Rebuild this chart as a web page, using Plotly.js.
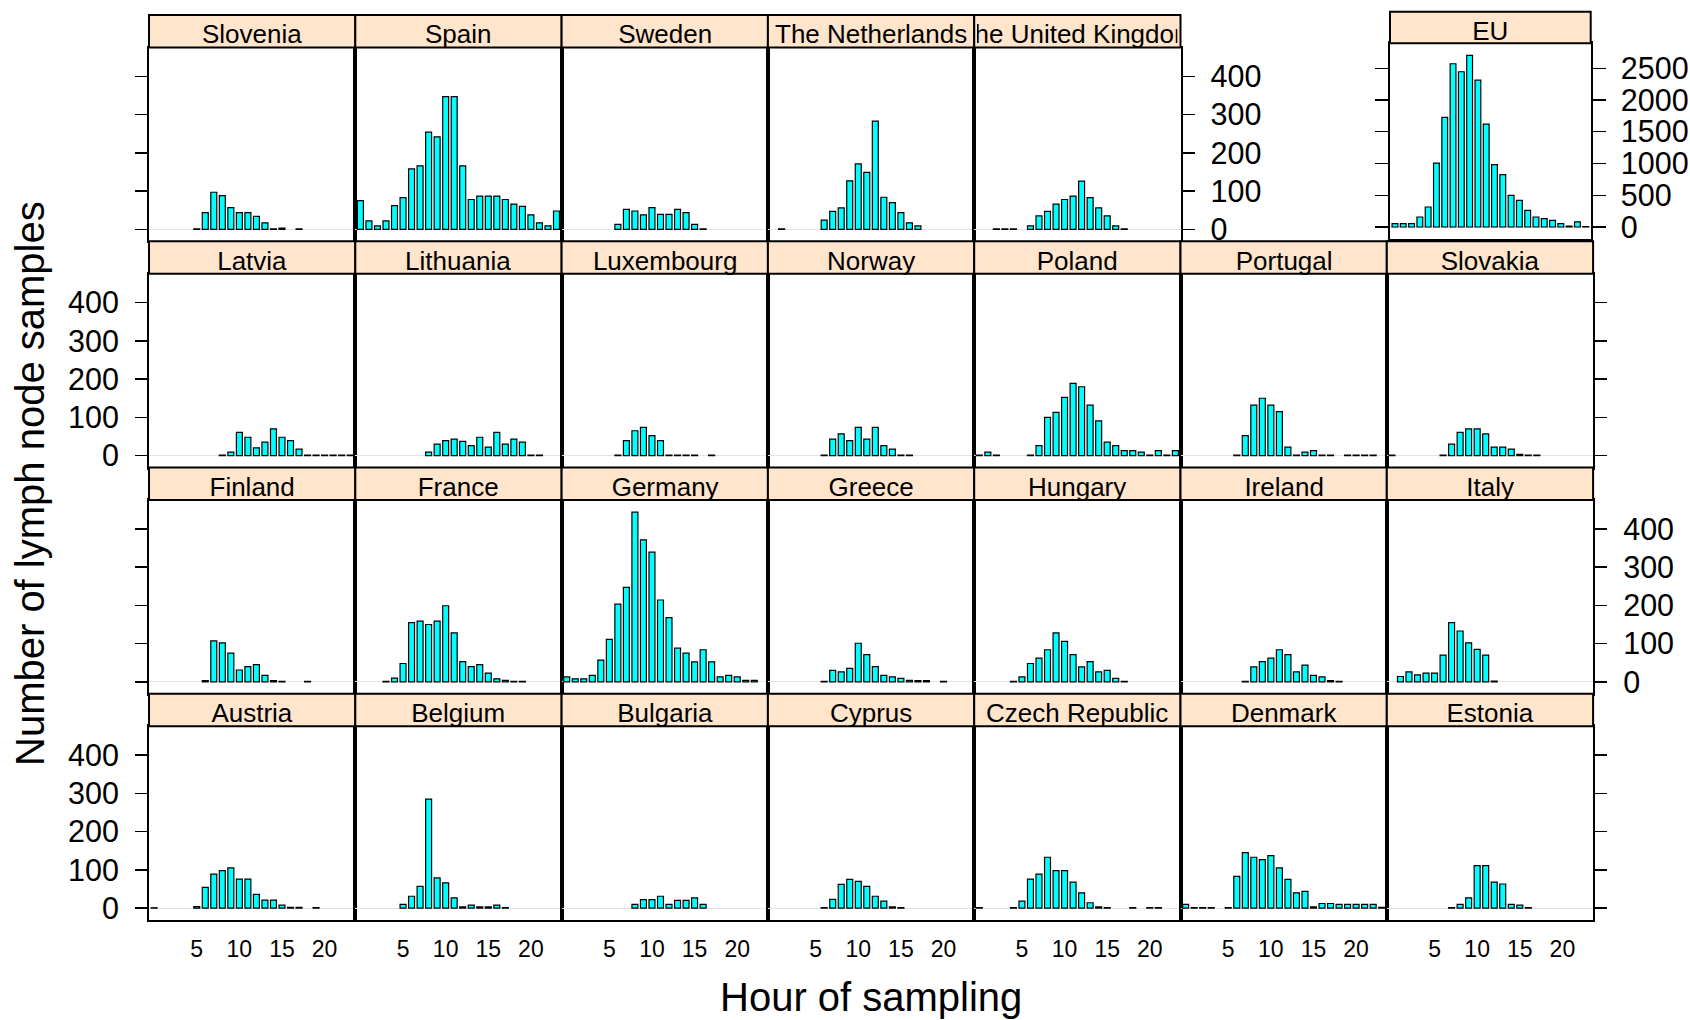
<!DOCTYPE html>
<html>
<head>
<meta charset="utf-8">
<script src="https://cdn.plot.ly/plotly-3.0.1.min.js"></script>
<style>
  html, body { margin: 0; padding: 0; background: #ffffff; }
  #chart { width: 1690px; height: 1020px; }
</style>
</head>
<body>
<div id="chart"></div>
<script>
// Lymph node samples per hour of sampling, by country (counts, hours 0-23).
const n = null;
const hours = [0,1,2,3,4,5,6,7,8,9,10,11,12,13,14,15,16,17,18,19,20,21,22,23];
const xTickVals = [5, 10, 15, 20];
const countryTickVals = [0, 100, 200, 300, 400];
const euTickVals = [0, 500, 1000, 1500, 2000, 2500];

const austria       = [1,n,n,n,n,4,54,89,98,105,76,76,36,21,21,8,2,2,n,1,n,n,n,n];
const belgium       = [n,n,n,n,n,10,31,57,285,79,66,27,3,8,3,3,8,1,n,n,n,n,n,n];
const bulgaria      = [n,n,n,n,n,n,n,n,10,22,22,31,10,20,20,27,10,n,n,n,n,n,n,n];
const cyprus        = [n,n,n,n,n,n,1,23,62,75,70,57,31,18,3,1,n,n,n,n,n,n,n,n];
const czechRepublic = [1,n,n,n,1,18,76,89,133,98,98,68,40,14,3,1,n,n,1,n,1,1,n,n];
const denmark       = [10,1,1,1,n,1,83,145,133,127,137,105,75,40,44,3,12,12,10,10,10,10,10,2];
const estonia       = [n,n,n,n,n,n,n,1,10,27,111,111,68,63,10,8,1,n,n,n,n,n,n,n];
const finland       = [n,n,n,n,n,n,3,107,102,75,31,40,45,17,3,1,n,n,1,n,n,n,n,n];
const france        = [n,n,n,1,10,48,155,159,150,159,199,128,53,40,45,23,8,4,1,1,n,n,n,n];
const germany       = [13,8,8,17,57,111,203,247,444,371,339,214,168,88,75,52,84,52,13,17,13,4,4,n];
const greece        = [n,n,n,n,n,n,1,30,26,35,101,71,40,17,13,9,4,3,3,n,1,n,n,n];
const hungary       = [n,n,n,n,1,13,48,62,84,128,106,71,39,53,26,30,9,1,n,n,n,n,n,n];
const ireland       = [n,n,n,n,n,n,n,1,39,53,62,84,71,26,44,17,13,3,1,n,n,n,n,n];
const italy         = [n,14,26,18,23,23,70,155,133,102,85,70,2,n,n,n,n,n,n,n,n,n,n,n];
const latvia        = [n,n,n,n,n,n,n,n,1,9,61,48,20,35,70,48,39,17,1,1,1,1,1,1];
const lithuania     = [n,n,n,n,n,n,n,n,9,30,39,43,37,26,48,22,61,30,43,35,1,1,n,n];
const luxembourg    = [n,n,n,n,n,n,1,39,65,74,52,39,1,1,1,1,n,1,n,n,n,n,n,n];
const norway        = [n,n,n,n,n,n,1,43,57,39,74,43,74,26,17,1,1,n,n,n,n,n,n,n];
const poland        = [1,9,1,n,n,n,1,26,100,113,152,189,180,132,91,35,26,13,13,9,1,13,1,13];
const portugal      = [n,n,n,n,n,n,1,52,132,150,132,115,22,1,9,13,1,1,n,1,1,1,1,n];
const slovakia      = [1,n,n,n,n,n,1,30,61,70,70,57,22,22,17,3,1,1,n,n,n,n,n,n];
const slovenia      = [n,n,n,n,n,1,44,97,88,57,44,44,34,17,1,3,n,1,n,n,n,n,n,n];
const spain         = [75,22,9,22,62,83,158,166,254,242,347,347,166,78,87,87,87,78,66,60,38,17,9,48];
const sweden        = [n,n,n,n,n,n,13,52,48,38,57,39,39,52,44,13,1,n,n,n,n,n,n,n];
const netherlands   = [n,1,n,n,n,n,24,47,56,127,171,149,283,84,70,44,17,9,n,n,n,n,n,n];
const unitedKingdom = [n,n,1,1,1,n,9,35,47,66,78,87,126,83,56,35,9,1,n,n,n,n,n,n];
const eu            = [52,52,52,157,315,1007,1726,2571,2445,2704,2314,1621,981,824,498,420,262,157,131,105,52,15,79,5];

// Lattice rows, top to bottom
const grid = [
  [["Slovenia", slovenia], ["Spain", spain], ["Sweden", sweden], ["The Netherlands", netherlands], ["The United Kingdom", unitedKingdom]],
  [["Latvia", latvia], ["Lithuania", lithuania], ["Luxembourg", luxembourg], ["Norway", norway], ["Poland", poland], ["Portugal", portugal], ["Slovakia", slovakia]],
  [["Finland", finland], ["France", france], ["Germany", germany], ["Greece", greece], ["Hungary", hungary], ["Ireland", ireland], ["Italy", italy]],
  [["Austria", austria], ["Belgium", belgium], ["Bulgaria", bulgaria], ["Cyprus", cyprus], ["Czech Republic", czechRepublic], ["Denmark", denmark], ["Estonia", estonia]]
];

// Page geometry (pixels)
const W = 1690, H = 1020;
const colLeft0 = 149, colW = 206.3;
const rowTop0 = 15, rowH = 226.25, stripH = 32.5;
const px = v => v / W;
const py = v => 1 - v / H;

const FONT = "Liberation Sans, Arial, Helvetica, sans-serif";
const STRIP_FILL = "#FFE5CC";
const BAR_FILL = "#00FFFF";
const xRange = [-0.6, 23.6];
const yRange = [-31.1, 475.5];

const data = [];
const layout = {
  width: W, height: H,
  margin: {l: 0, r: 0, t: 0, b: 0},
  paper_bgcolor: "#ffffff",
  plot_bgcolor: "rgba(0,0,0,0)",
  font: {family: FONT, color: "#000000"},
  showlegend: false,
  hovermode: false,
  shapes: [],
  annotations: []
};

function addStrip(x0, x1, top, bottom, label) {
  layout.shapes.push({
    type: "rect", xref: "paper", yref: "paper",
    x0: px(x0), x1: px(x1), y0: py(bottom), y1: py(top),
    fillcolor: STRIP_FILL, line: {color: "#000000", width: 2}
  });
  // strip label sits a little below the strip centre, clipped to the strip width
  layout.annotations.push({
    xref: "paper", yref: "paper",
    x: px((x0 + x1) / 2), y: py((top + bottom) / 2 + 3),
    xanchor: "center", yanchor: "middle",
    text: label, showarrow: false,
    width: (x1 - x0) - 6, align: "center",
    font: {family: FONT, size: 26, color: "#000000"}
  });
}

let k = 0;
grid.forEach((row, r) => {
  const top = rowTop0 + r * rowH;
  const panelTop = top + stripH;
  const panelBottom = top + rowH;
  const lastCol = row.length - 1;
  row.forEach(([name, values], c) => {
    k += 1;
    const sfx = k === 1 ? "" : String(k);
    const left = colLeft0 + c * colW;
    const right = left + colW;

    data.push({
      type: "bar", x: hours, y: values,
      xaxis: "x" + sfx, yaxis: "y" + sfx,
      width: 0.7,
      marker: {color: BAR_FILL, line: {color: "#000000", width: 1.2}},
      hoverinfo: "skip"
    });

    // Y axis labelling alternates between left and right by row
    let side = "left", ticks = "", labels = false;
    if (c === 0) {
      side = "left"; ticks = "outside";
      labels = (r === 1 || r === 3);
    } else if (c === lastCol) {
      side = "right"; ticks = "outside";
      labels = (r === 0 || r === 2);
    }

    layout["xaxis" + sfx] = {
      domain: [px(left), px(right)], anchor: "y" + sfx,
      range: xRange, fixedrange: true,
      showline: true, mirror: true, linecolor: "#000000", linewidth: 2,
      showgrid: false, zeroline: false,
      ticks: "", tickmode: "array", tickvals: xTickVals,
      showticklabels: r === 3, ticklabelstandoff: 7,
      tickfont: {family: FONT, size: 23, color: "#000000"}
    };
    layout["yaxis" + sfx] = {
      domain: [py(panelBottom), py(panelTop)], anchor: "x" + sfx,
      range: yRange, fixedrange: true, side: side,
      showline: true, mirror: true, linecolor: "#000000", linewidth: 2,
      showgrid: false,
      zeroline: true, zerolinecolor: "#e3e3e3", zerolinewidth: 1.2,
      ticks: ticks, ticklen: 12, tickwidth: 1.3, tickcolor: "#000000",
      tickmode: "array", tickvals: countryTickVals,
      showticklabels: labels, ticklabelstandoff: 10,
      tickfont: {family: FONT, size: 30.5, color: "#000000"}
    };

    addStrip(left, right, top, panelTop, name);
  });
});

// EU total panel, on its own scale
k += 1;
const euLeft = 1390, euRight = 1590.7, euStripTop = 11.7, euPanelTop = 43.3, euBottom = 239;
data.push({
  type: "bar", x: hours, y: eu,
  xaxis: "x" + k, yaxis: "y" + k,
  width: 0.7,
  marker: {color: BAR_FILL, line: {color: "#000000", width: 1.2}},
  hoverinfo: "skip"
});
layout["xaxis" + k] = {
  domain: [px(euLeft), px(euRight)], anchor: "y" + k,
  range: xRange, fixedrange: true,
  showline: true, mirror: true, linecolor: "#000000", linewidth: 2,
  showgrid: false, zeroline: false, ticks: "", showticklabels: false
};
layout["yaxis" + k] = {
  domain: [py(euBottom), py(euPanelTop)], anchor: "x" + k,
  range: [-189.3, 2893.3], fixedrange: true, side: "right",
  showline: true, mirror: "ticks", linecolor: "#000000", linewidth: 2,
  showgrid: false,
  zeroline: true, zerolinecolor: "#e3e3e3", zerolinewidth: 1.2,
  ticks: "outside", ticklen: 13, tickwidth: 1.3, tickcolor: "#000000",
  tickmode: "array", tickvals: euTickVals,
  showticklabels: true, ticklabelstandoff: 9,
  tickfont: {family: FONT, size: 30.5, color: "#000000"}
};
addStrip(euLeft, euRight, euStripTop, euPanelTop, "EU");

// Axis titles
layout.annotations.push({
  xref: "paper", yref: "paper",
  x: px(871), y: py(997), xanchor: "center", yanchor: "middle",
  text: "Hour of sampling", showarrow: false,
  font: {family: FONT, size: 40, color: "#000000"}
});
layout.annotations.push({
  xref: "paper", yref: "paper",
  x: px(30), y: py(484), xanchor: "center", yanchor: "middle",
  text: "Number of lymph node samples", showarrow: false, textangle: -90,
  font: {family: FONT, size: 40, color: "#000000"}
});

Plotly.newPlot("chart", data, layout, {displayModeBar: false, staticPlot: true});
</script>
</body>
</html>
